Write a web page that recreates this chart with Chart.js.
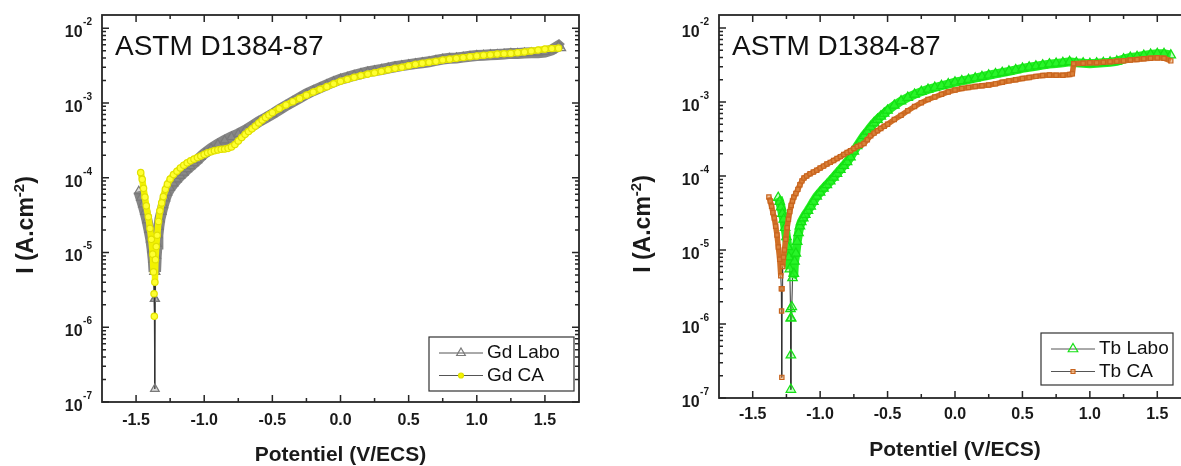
<!DOCTYPE html>
<html>
<head>
<meta charset="utf-8">
<script src="https://cdn.jsdelivr.net/npm/chart.js@4.4.1/dist/chart.umd.min.js"></script>
<style>
  html, body { margin: 0; padding: 0; background: #fff; overflow: hidden; }
  body { width: 1181px; height: 466px; position: relative; }
  canvas { position: absolute; top: 0; }
  #gd-chart { left: 0; }
  #tb-chart { left: 590px; }
</style>
</head>
<body>
<canvas id="gd-chart" width="590" height="466"></canvas>
<canvas id="tb-chart" width="612" height="466"></canvas>
<script>
// axis ticks
const xTicks = [-1.5, -1.0, -0.5, 0.0, 0.5, 1.0, 1.5];
const xMinor = [-1.25, -0.75, -0.25, 0.25, 0.75, 1.25];
const yDecades = [-7, -6, -5, -4, -3, -2];

// Gd panel (potential V/ECS, current A/cm2)
const gdLaboV = [
  -1.48, -1.465, -1.45, -1.435, -1.42, -1.405, -1.392, -1.382, -1.374, -1.368,
  -1.364, -1.362, -1.36, -1.357, -1.352, -1.346, -1.34, -1.333, -1.325, -1.312,
  -1.30, -1.285, -1.27, -1.25, -1.225, -1.20, -1.175, -1.15, -1.125, -1.10,
  -1.075, -1.05, -1.025, -1.00, -0.95, -0.90, -0.85, -0.80, -0.75, -0.70,
  -0.65, -0.60, -0.55, -0.50, -0.45, -0.40, -0.35, -0.30, -0.25, -0.20,
  -0.15, -0.10, -0.05, 0.00, 0.05, 0.10, 0.15, 0.20, 0.25, 0.30,
  0.35, 0.40, 0.45, 0.50, 0.55, 0.60, 0.65, 0.70, 0.75, 0.80,
  0.85, 0.90, 0.95, 1.00, 1.05, 1.10, 1.15, 1.20, 1.25, 1.30,
  1.35, 1.40, 1.45, 1.50, 1.55, 1.60, 1.62
];
const gdLaboI = [
  6.6e-5, 5.4e-5, 4.4e-5, 3.5e-5, 2.7e-5, 2.0e-5, 1.5e-5, 1.1e-5, 8.0e-6, 5.5e-6,
  2.4e-6, 1.5e-7, 2.4e-6, 5.5e-6, 9.0e-6, 1.3e-5, 1.7e-5, 2.2e-5, 2.8e-5, 3.5e-5,
  4.3e-5, 5.3e-5, 6.3e-5, 7.3e-5, 8.4e-5, 9.5e-5, 1.06e-4, 1.17e-4, 1.3e-4, 1.43e-4,
  1.57e-4, 1.72e-4, 1.9e-4, 2.1e-4, 2.45e-4, 2.8e-4, 3.15e-4, 3.5e-4, 3.85e-4, 4.3e-4,
  4.9e-4, 5.6e-4, 6.3e-4, 7.1e-4, 8.1e-4, 9.2e-4, 1.04e-3, 1.17e-3, 1.32e-3, 1.46e-3,
  1.6e-3, 1.75e-3, 1.92e-3, 2.08e-3, 2.2e-3, 2.34e-3, 2.47e-3, 2.6e-3, 2.7e-3, 2.8e-3,
  2.93e-3, 3.05e-3, 3.15e-3, 3.25e-3, 3.35e-3, 3.45e-3, 3.55e-3, 3.7e-3, 3.85e-3, 3.95e-3,
  4.0e-3, 4.1e-3, 4.2e-3, 4.3e-3, 4.35e-3, 4.4e-3, 4.45e-3, 4.5e-3, 4.6e-3, 4.6e-3,
  4.65e-3, 4.7e-3, 4.7e-3, 4.8e-3, 5.1e-3, 5.8e-3, 5.4e-3
];
const gdCaV = [
  -1.466, -1.455, -1.445, -1.435, -1.425, -1.41, -1.398, -1.388, -1.378, -1.372,
  -1.368, -1.366, -1.362, -1.358, -1.352, -1.345, -1.335, -1.325, -1.312, -1.30,
  -1.285, -1.27, -1.25, -1.225, -1.20, -1.175, -1.15, -1.125, -1.10, -1.075,
  -1.05, -1.025, -1.00, -0.975, -0.95, -0.925, -0.90, -0.875, -0.85, -0.825,
  -0.80, -0.775, -0.75, -0.725, -0.70, -0.675, -0.65, -0.625, -0.60, -0.575,
  -0.55, -0.525, -0.50, -0.45, -0.40, -0.35, -0.30, -0.25, -0.20, -0.15,
  -0.10, -0.05, 0.00, 0.05, 0.10, 0.15, 0.20, 0.25, 0.30, 0.35,
  0.40, 0.45, 0.50, 0.55, 0.60, 0.65, 0.70, 0.75, 0.80, 0.85,
  0.90, 0.95, 1.00, 1.05, 1.10, 1.15, 1.20, 1.25, 1.30, 1.35,
  1.40, 1.45, 1.50, 1.55, 1.60
];
const gdCaI = [
  1.17e-4, 9.5e-5, 7.2e-5, 5.5e-5, 4.2e-5, 3.0e-5, 2.1e-5, 1.5e-5, 9.5e-6, 5.5e-6,
  2.8e-6, 1.4e-6, 4.0e-6, 8.0e-6, 1.2e-5, 1.7e-5, 2.6e-5, 3.6e-5, 4.6e-5, 5.6e-5,
  7.0e-5, 8.2e-5, 9.6e-5, 1.1e-4, 1.22e-4, 1.35e-4, 1.47e-4, 1.58e-4, 1.68e-4, 1.77e-4,
  1.86e-4, 1.95e-4, 2.05e-4, 2.15e-4, 2.22e-4, 2.3e-4, 2.35e-4, 2.4e-4, 2.42e-4, 2.47e-4,
  2.58e-4, 2.78e-4, 3.1e-4, 3.45e-4, 3.8e-4, 4.15e-4, 4.5e-4, 4.9e-4, 5.4e-4, 5.9e-4,
  6.4e-4, 6.9e-4, 7.4e-4, 8.4e-4, 9.4e-4, 1.04e-3, 1.15e-3, 1.27e-3, 1.4e-3, 1.52e-3,
  1.65e-3, 1.8e-3, 1.95e-3, 2.07e-3, 2.2e-3, 2.32e-3, 2.43e-3, 2.53e-3, 2.65e-3, 2.78e-3,
  2.9e-3, 3.0e-3, 3.15e-3, 3.28e-3, 3.4e-3, 3.5e-3, 3.6e-3, 3.75e-3, 3.85e-3, 3.95e-3,
  4.05e-3, 4.15e-3, 4.25e-3, 4.35e-3, 4.4e-3, 4.5e-3, 4.55e-3, 4.6e-3, 4.7e-3, 4.8e-3,
  4.95e-3, 5.1e-3, 5.25e-3, 5.35e-3, 5.4e-3
];

// Tb panel
const tbLaboV = [
  -1.311, -1.30, -1.29, -1.28, -1.27, -1.26, -1.25, -1.24, -1.232, -1.225,
  -1.22, -1.218, -1.217, -1.217, -1.215, -1.21, -1.205, -1.195, -1.19, -1.18,
  -1.17, -1.16, -1.15, -1.14, -1.125, -1.11, -1.09, -1.07, -1.05, -1.025,
  -1.00, -0.975, -0.95, -0.925, -0.90, -0.875, -0.85, -0.825, -0.80, -0.775,
  -0.75, -0.725, -0.70, -0.675, -0.65, -0.625, -0.60, -0.575, -0.55, -0.525,
  -0.50, -0.45, -0.40, -0.35, -0.30, -0.25, -0.20, -0.15, -0.10, -0.05,
  0.00, 0.05, 0.10, 0.15, 0.20, 0.25, 0.30, 0.35, 0.40, 0.45,
  0.50, 0.55, 0.60, 0.65, 0.70, 0.75, 0.80, 0.85, 0.90, 0.95,
  1.00, 1.05, 1.10, 1.15, 1.20, 1.25, 1.30, 1.35, 1.40, 1.45,
  1.50, 1.55, 1.60
];
const tbLaboI = [
  5.1e-5, 4.5e-5, 3.8e-5, 3.1e-5, 2.6e-5, 2.0e-5, 1.5e-5, 1.1e-5, 8.0e-6, 5.5e-6,
  1.6e-6, 1.2e-6, 3.8e-7, 1.3e-7, 1.2e-6, 1.7e-6, 4.2e-6, 4.8e-6, 7.0e-6, 9.0e-6,
  1.3e-5, 1.7e-5, 2.1e-5, 2.4e-5, 2.7e-5, 3.0e-5, 3.4e-5, 3.9e-5, 4.5e-5, 5.3e-5,
  6.0e-5, 6.8e-5, 7.6e-5, 8.5e-5, 9.6e-5, 1.08e-4, 1.22e-4, 1.38e-4, 1.55e-4, 1.8e-4,
  2.15e-4, 2.55e-4, 3.0e-4, 3.5e-4, 4.0e-4, 4.6e-4, 5.2e-4, 5.8e-4, 6.4e-4, 7.0e-4,
  7.7e-4, 9.0e-4, 1.03e-3, 1.15e-3, 1.27e-3, 1.38e-3, 1.48e-3, 1.57e-3, 1.66e-3, 1.75e-3,
  1.85e-3, 1.93e-3, 2.01e-3, 2.1e-3, 2.2e-3, 2.3e-3, 2.4e-3, 2.5e-3, 2.6e-3, 2.72e-3,
  2.85e-3, 2.95e-3, 3.05e-3, 3.15e-3, 3.25e-3, 3.32e-3, 3.4e-3, 3.5e-3, 3.4e-3, 3.35e-3,
  3.3e-3, 3.35e-3, 3.4e-3, 3.45e-3, 3.55e-3, 3.8e-3, 4.0e-3, 4.1e-3, 4.25e-3, 4.4e-3,
  4.5e-3, 4.5e-3, 4.3e-3
];
const tbCaV = [
  -1.38, -1.37, -1.36, -1.35, -1.34, -1.33, -1.32, -1.31, -1.30, -1.292,
  -1.288, -1.286, -1.284, -1.282, -1.278, -1.272, -1.265, -1.255, -1.245, -1.235,
  -1.225, -1.215, -1.205, -1.195, -1.18, -1.165, -1.15, -1.135, -1.12, -1.10,
  -1.075, -1.05, -1.025, -1.00, -0.975, -0.95, -0.925, -0.90, -0.875, -0.85,
  -0.825, -0.80, -0.775, -0.75, -0.725, -0.70, -0.675, -0.65, -0.625, -0.60,
  -0.575, -0.55, -0.525, -0.50, -0.45, -0.40, -0.35, -0.30, -0.25, -0.20,
  -0.15, -0.10, -0.05, 0.00, 0.05, 0.10, 0.15, 0.20, 0.25, 0.30,
  0.35, 0.40, 0.45, 0.50, 0.55, 0.60, 0.65, 0.70, 0.75, 0.80,
  0.85, 0.87, 0.88, 0.95, 1.00, 1.05, 1.10, 1.15, 1.20, 1.25,
  1.30, 1.35, 1.40, 1.45, 1.50, 1.55, 1.60
];
const tbCaI = [
  5.2e-5, 4.6e-5, 3.9e-5, 3.2e-5, 2.7e-5, 2.1e-5, 1.6e-5, 1.1e-5, 7.5e-6, 4.5e-6,
  3.0e-6, 1.5e-6, 1.9e-7, 3.0e-6, 6.0e-6, 8.0e-6, 1.0e-5, 1.4e-5, 2.0e-5, 2.6e-5,
  3.3e-5, 4.0e-5, 4.6e-5, 5.2e-5, 5.8e-5, 6.6e-5, 7.6e-5, 8.6e-5, 9.4e-5, 1.0e-4,
  1.07e-4, 1.13e-4, 1.2e-4, 1.28e-4, 1.36e-4, 1.45e-4, 1.53e-4, 1.62e-4, 1.72e-4, 1.83e-4,
  1.95e-4, 2.08e-4, 2.2e-4, 2.35e-4, 2.5e-4, 2.6e-4, 2.75e-4, 3.1e-4, 3.5e-4, 3.8e-4,
  4.1e-4, 4.4e-4, 4.7e-4, 5.0e-4, 5.8e-4, 6.6e-4, 7.6e-4, 8.7e-4, 9.8e-4, 1.08e-3,
  1.17e-3, 1.27e-3, 1.37e-3, 1.45e-3, 1.52e-3, 1.57e-3, 1.62e-3, 1.66e-3, 1.7e-3, 1.76e-3,
  1.85e-3, 1.93e-3, 2.0e-3, 2.08e-3, 2.15e-3, 2.22e-3, 2.28e-3, 2.32e-3, 2.3e-3, 2.3e-3,
  2.35e-3, 2.4e-3, 3.3e-3, 3.35e-3, 3.4e-3, 3.4e-3, 3.45e-3, 3.5e-3, 3.55e-3, 3.6e-3,
  3.7e-3, 3.75e-3, 3.85e-3, 3.9e-3, 3.95e-3, 3.9e-3, 3.6e-3
];

const FONT = "'Liberation Sans', Arial, Helvetica, sans-serif";
Chart.defaults.font.family = FONT;

// frame, inward ticks, log labels, titles, note and legend in the Origin style
const paperFrame = {
  id: 'paperFrame',
  afterDraw(chart, args, o) {
    const { ctx, chartArea: a, scales: { x, y } } = chart;
    ctx.save();
    ctx.strokeStyle = '#262626';
    ctx.lineWidth = 1.5;
    ctx.beginPath();
    const xt = (v, len) => {
      const p = x.getPixelForValue(v);
      ctx.moveTo(p, a.bottom); ctx.lineTo(p, a.bottom - len);
      ctx.moveTo(p, a.top); ctx.lineTo(p, a.top + len);
    };
    const yt = (v, len) => {
      const p = y.getPixelForValue(v);
      ctx.moveTo(a.left, p); ctx.lineTo(a.left + len, p);
      ctx.moveTo(a.right, p); ctx.lineTo(a.right - len, p);
    };
    xTicks.forEach(v => xt(v, 7));
    xMinor.forEach(v => xt(v, 4));
    const top = yDecades[yDecades.length - 1];
    yDecades.forEach(e => {
      yt(Math.pow(10, e), 7);
      if (e < top) for (let k = 2; k <= 9; k++) yt(k * Math.pow(10, e), 4);
    });
    ctx.stroke();
    ctx.lineWidth = 1.8;
    ctx.strokeRect(a.left, a.top, a.right - a.left, a.bottom - a.top);

    // y tick labels 10^n
    ctx.fillStyle = '#1a1a1a';
    ctx.textBaseline = 'alphabetic';
    yDecades.forEach(e => {
      const p = y.getPixelForValue(Math.pow(10, e));
      ctx.font = 'bold 10px ' + FONT;
      const sup = String(e);
      const sx = a.left - 10 - ctx.measureText(sup).width;
      ctx.textAlign = 'left';
      ctx.fillText(sup, sx, p - 3);
      ctx.font = 'bold 16px ' + FONT;
      ctx.textAlign = 'right';
      ctx.fillText('10', sx - 0.5, p + 9);
    });

    // y title with superscript
    ctx.save();
    ctx.translate(a.left - 77, o.yTitleY);
    ctx.rotate(-Math.PI / 2);
    const parts = [['I (A.cm', 23, 0], ['-2', 15, -9], [')', 23, 0]];
    const widths = parts.map(([t, s]) => { ctx.font = `bold ${s}px ${FONT}`; return ctx.measureText(t).width; });
    let cx = -widths.reduce((s, w) => s + w, 0) / 2;
    ctx.textAlign = 'left';
    parts.forEach(([t, s, dy], i) => {
      ctx.font = `bold ${s}px ${FONT}`;
      ctx.fillText(t, cx, 8 + dy);
      cx += widths[i];
    });
    ctx.restore();

    // x title
    ctx.font = 'bold 21px ' + FONT;
    ctx.textAlign = 'center';
    ctx.textBaseline = 'middle';
    ctx.fillText(o.xTitle, (a.left + a.right) / 2, o.xTitleY);

    // note
    ctx.font = '28px ' + FONT;
    ctx.textAlign = 'left';
    ctx.textBaseline = 'alphabetic';
    ctx.fillStyle = '#111';
    ctx.fillText(o.note, a.left + 13, 55);

    // legend
    const L = o.legend;
    ctx.fillStyle = '#fff';
    ctx.fillRect(L.x, L.y, L.w, L.h);
    ctx.strokeStyle = '#333';
    ctx.lineWidth = 1.2;
    ctx.strokeRect(L.x, L.y, L.w, L.h);
    chart.data.datasets.forEach((ds, i) => {
      const ry = L.y + 16 + i * 22.5;
      ctx.strokeStyle = '#555';
      ctx.lineWidth = 1;
      ctx.beginPath();
      ctx.moveTo(L.x + 10, ry); ctx.lineTo(L.x + 54, ry);
      ctx.stroke();
      ctx.strokeStyle = ds.pointBorderColor;
      ctx.fillStyle = ds.legendFill;
      ctx.lineWidth = 1.2;
      Chart.helpers.drawPoint(ctx, { pointStyle: ds.pointStyle, radius: ds.legendRadius, rotation: 0, borderWidth: 1.2 }, L.x + 32, ry);
      ctx.fillStyle = '#111';
      ctx.font = '19px ' + FONT;
      ctx.textBaseline = 'middle';
      ctx.fillText(ds.label, L.x + 58, ry);
    });
    ctx.restore();
  }
};

function series(label, v, i, st) {
  const inBand = c => c.p0.parsed.y > st.thr && c.p1.parsed.y > st.thr;
  return {
    label,
    data: v.map((x, k) => ({ x, y: i[k] })),
    showLine: true,
    order: st.order,
    borderColor: '#333',
    borderWidth: 1,
    segment: {
      borderColor: c => inBand(c) ? st.band : '#333',
      borderWidth: c => inBand(c) ? st.bandWidth : 1
    },
    pointStyle: st.style,
    pointRadius: st.radius,
    pointBorderWidth: 1.2,
    pointBorderColor: st.edge,
    pointBackgroundColor: st.fill,
    legendFill: st.legendFill,
    legendRadius: st.legendRadius
  };
}

function makeChart(id, datasets, o) {
  return new Chart(document.getElementById(id), {
    type: 'scatter',
    data: { datasets },
    options: {
      responsive: false,
      animation: false,
      layout: { padding: { top: 15, right: 11, left: 0, bottom: 0 } },
      plugins: { legend: { display: false }, tooltip: { enabled: false }, paperFrame: o },
      scales: {
        x: {
          type: 'linear', min: -1.75, max: 1.75,
          grid: { display: false, drawTicks: false },
          border: { display: false },
          afterBuildTicks: s => { s.ticks = xTicks.map(value => ({ value })); },
          afterFit: s => { s.height = o.xHeight; },
          ticks: {
            padding: o.tickPad, color: '#1a1a1a', maxRotation: 0, autoSkip: false,
            font: { size: 16, weight: 'bold' },
            callback: v => Number(v).toFixed(1)
          }
        },
        y: {
          type: 'logarithmic', min: 1e-7, max: 1.5e-2,
          grid: { display: false, drawTicks: false },
          border: { display: false },
          ticks: { display: false },
          afterFit: s => { s.width = o.yWidth; }
        }
      }
    },
    plugins: [paperFrame]
  });
}

makeChart('gd-chart', [
  series('Gd Labo', gdLaboV, gdLaboI, {
    order: 1, thr: 4e-6, band: '#858585', bandWidth: 11, style: 'triangle', radius: 5,
    edge: '#7a7a7a', fill: 'rgba(150,150,150,0.35)', legendFill: 'rgba(255,255,255,0)', legendRadius: 5
  }),
  series('Gd CA', gdCaV, gdCaI, {
    order: 0, thr: 3e-6, band: '#f2f200', bandWidth: 6.5, style: 'circle', radius: 3.2,
    edge: '#e0e000', fill: '#ffff30', legendFill: '#f4f400', legendRadius: 2.5
  })
], {
  yWidth: 102, xHeight: 64, tickPad: 9, yTitleY: 225, xTitleY: 455,
  xTitle: 'Potentiel (V/ECS)', note: 'ASTM D1384-87',
  legend: { x: 429, y: 337, w: 145, h: 54 }
});

makeChart('tb-chart', [
  series('Tb Labo', tbLaboV, tbLaboI, {
    order: 1, thr: 4e-6, band: '#22f022', bandWidth: 9, style: 'triangle', radius: 5.5,
    edge: '#14e014', fill: 'rgba(60,255,60,0.3)', legendFill: 'rgba(255,255,255,0)', legendRadius: 5.5
  }),
  series('Tb CA', tbCaV, tbCaI, {
    order: 0, thr: 3e-6, band: '#d06f25', bandWidth: 5.5, style: 'rect', radius: 3,
    edge: '#c8641e', fill: 'rgba(232,150,80,0.5)', legendFill: 'rgba(240,170,110,0.8)', legendRadius: 2.8
  })
], {
  yWidth: 129, xHeight: 68, tickPad: 7, yTitleY: 224, xTitleY: 450,
  xTitle: 'Potentiel (V/ECS)', note: 'ASTM D1384-87',
  legend: { x: 451, y: 333, w: 132, h: 52 }
});
</script>
</body>
</html>
